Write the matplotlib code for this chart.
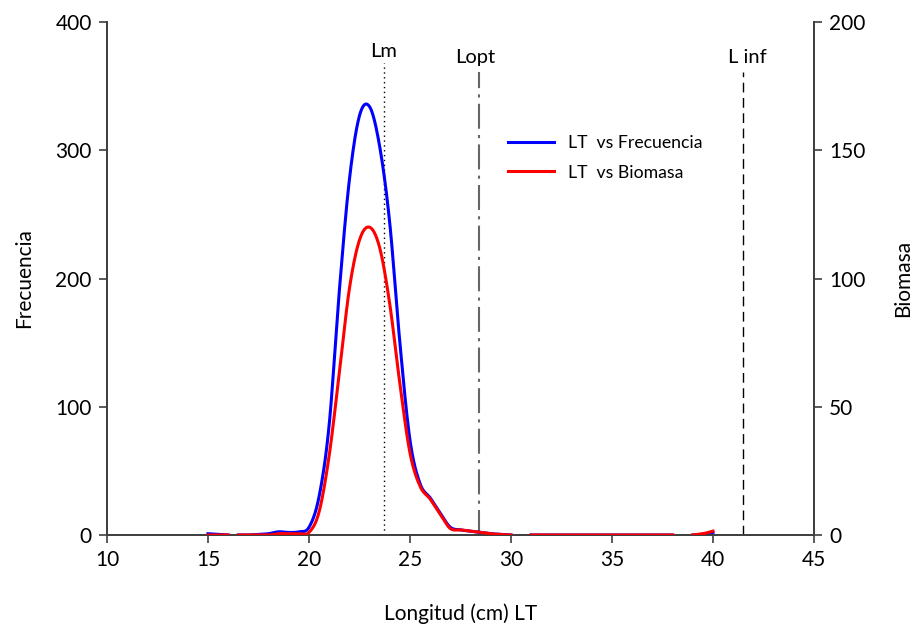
import numpy as np
import matplotlib.pyplot as plt
from matplotlib.lines import Line2D

plt.rcParams['font.family'] = ['Lato', 'DejaVu Sans']

# Tallas (cm LT); NaN = sin dato (corta la linea)
longitud = [15.0, 15.5, 16.0, 16.25, 16.5, 17.0, 17.5, 18.0, 18.5, 19.0, 19.5,
            20.0, 20.5, 21.0, 21.5, 22.0, 22.5, 23.0, 23.5, 24.0, 24.5, 25.0,
            25.5, 26.0, 26.5, 27.0, 27.5, 28.0, 28.5, 29.0, 29.5, 30.0, 30.5,
            31.0, 32.0, 33.0, 34.0, 35.0, 36.0, 37.0, 38.0, 38.5,
            39.0, 39.5, 40.0]
frecuencia = [1, 0.5, 0, np.nan, 0, 0, 0.5, 1, 2.5, 2, 2.5,
              6, 30, 86, 190, 277, 327, 334, 303, 243, 150, 74,
              40, 29, 17, 6, 4, 3, 2, 1, 0.5, 0, np.nan,
              0, 0, 0, 0, 0, 0, 0, 0, np.nan,
              0, 0.5, 2]
biomasa = [0, 0, 0, np.nan, 0, 0, 0, 0, 0.5, 0.5, 0.5,
           1, 9, 31, 63, 96, 115, 120, 112, 90, 59, 32,
           19, 14, 8, 2.5, 2, 1.5, 1, 0.5, 0.2, 0, np.nan,
           0, 0, 0, 0, 0, 0, 0, 0, np.nan,
           0, 0.5, 1.5]

Lm, Lopt, Linf = 23.7, 28.4, 41.5


def catmull_rom(x, y, n=20):
    # suavizado tipo Excel, por tramos separados por NaN
    x = np.asarray(x, float)
    y = np.asarray(y, float)
    xs, ys = [], []
    ok = ~np.isnan(y)
    idx = np.where(ok)[0]
    groups = np.split(idx, np.where(np.diff(idx) != 1)[0] + 1)
    for g in groups:
        px, py = x[g], y[g]
        if len(px) < 2:
            continue
        px = np.concatenate([[2 * px[0] - px[1]], px, [2 * px[-1] - px[-2]]])
        py = np.concatenate([[2 * py[0] - py[1]], py, [2 * py[-1] - py[-2]]])
        for i in range(1, len(px) - 2):
            t = np.linspace(0, 1, n, endpoint=False)
            p0, p1, p2, p3 = [np.array([px[j], py[j]]) for j in range(i - 1, i + 3)]
            tt = t[:, None]
            pts = 0.5 * ((2 * p1) + (-p0 + p2) * tt + (2 * p0 - 5 * p1 + 4 * p2 - p3) * tt ** 2
                         + (-p0 + 3 * p1 - 3 * p2 + p3) * tt ** 3)
            xs.extend(pts[:, 0])
            ys.extend(pts[:, 1])
        xs.append(px[-2])
        ys.append(py[-2])
        xs.append(np.nan)
        ys.append(np.nan)
    return np.array(xs), np.array(ys)


fig = plt.figure(figsize=(9.16, 6.3), dpi=100)
ax = fig.add_axes([0.1168, 0.1508, 0.7718, 0.8142])
ax2 = ax.twinx()

fx, fy = catmull_rom(longitud, frecuencia)
bx, by = catmull_rom(longitud, biomasa)
ax.plot(fx, fy, color='#0000ff', lw=2.2, zorder=3)
ax2.plot(bx, by, color='#ff0000', lw=2.2, zorder=3)

ax.set_xlim(10, 45)
ax.set_ylim(0, 400)
ax2.set_ylim(0, 200)
ax.set_xticks(range(10, 46, 5))
ax.set_yticks(range(0, 401, 100))
ax2.set_yticks(range(0, 201, 50))

# tallas de referencia
ax.vlines(Lm, 0, 368, colors='black', linestyles=(0, (1, 2.5)), lw=1)
ax.vlines(Lopt, 0, 361, colors='#666666', linestyles=(0, (12, 3, 1.5, 3)), lw=1.5)
ax.vlines(Linf, 0, 361, colors='black', linestyles=(0, (7, 4)), lw=1)
ax.text(Lm, 377, 'Lm', ha='center', va='center', fontsize=14.5)
ax.text(Lopt - 0.15, 372, 'Lopt', ha='center', va='center', fontsize=14.5)
ax.text(Linf + 0.2, 372, 'L inf', ha='center', va='center', fontsize=14.5)

for a in (ax, ax2):
    a.spines['top'].set_visible(False)
    for s in a.spines.values():
        s.set_color('#404040')
        s.set_linewidth(1.3)
    a.tick_params(direction='out', length=6, width=1.2, color='#404040', labelsize=15, pad=5)

ax.set_xlabel('Longitud (cm) LT', fontsize=15, labelpad=24)
ax.set_ylabel('Frecuencia', fontsize=15, labelpad=15)
ax2.set_ylabel('Biomasa', fontsize=15, labelpad=20)

handles = [Line2D([0], [0], color='#0000ff', lw=2.2),
           Line2D([0], [0], color='#ff0000', lw=2.2)]
ax.legend(handles, ['LT  vs Frecuencia', 'LT  vs Biomasa'], frameon=False,
          fontsize=12.7, loc='upper left', bbox_to_anchor=(0.545, 0.81),
          handlelength=2.6, labelspacing=0.75, handletextpad=0.8)

fig.savefig('out.png', dpi=100)
